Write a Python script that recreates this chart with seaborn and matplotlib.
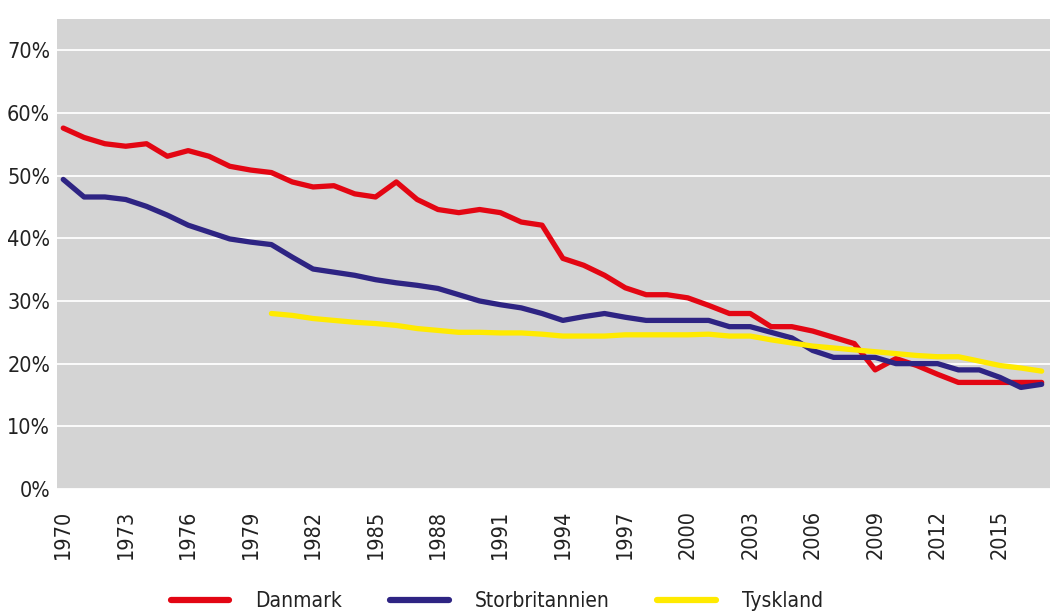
import pandas as pd
import numpy as np
import seaborn as sns
import matplotlib.pyplot as plt
from matplotlib.ticker import PercentFormatter

# Data (share in %)
years = list(range(1970, 2018))
danmark = [57.6, 56.1, 55.1, 54.7, 55.1, 53.1, 54.0, 53.1, 51.5, 50.9,
           50.5, 49.0, 48.2, 48.4, 47.1, 46.6, 49.0, 46.2, 44.6, 44.1,
           44.6, 44.1, 42.6, 42.1, 36.8, 35.7, 34.1, 32.1, 31.0, 31.0,
           30.5, 29.3, 28.0, 28.0, 25.9, 25.9, 25.2, 24.2, 23.2, 19.0,
           20.8, 19.7, 18.3, 17.0, 17.0, 17.0, 17.0, 17.0]
storbritannien = [49.4, 46.6, 46.6, 46.2, 45.1, 43.7, 42.1, 41.0, 39.9, 39.4,
                  39.0, 37.0, 35.1, 34.6, 34.1, 33.4, 32.9, 32.5, 32.0, 31.0,
                  30.0, 29.4, 28.9, 28.0, 26.9, 27.5, 28.0, 27.4, 26.9, 26.9,
                  26.9, 26.9, 25.9, 25.9, 25.0, 24.1, 22.1, 21.0, 21.0, 21.0,
                  20.0, 20.0, 20.0, 19.0, 19.0, 17.8, 16.2, 16.7]
tyskland_years = list(range(1980, 2018))
tyskland = [28.0, 27.7, 27.2, 26.9, 26.6, 26.4, 26.1, 25.6, 25.3, 25.0,
            25.0, 24.9, 24.9, 24.7, 24.4, 24.4, 24.4, 24.6, 24.6, 24.6,
            24.6, 24.7, 24.4, 24.4, 23.8, 23.3, 22.8, 22.5, 22.2, 21.9,
            21.6, 21.3, 21.1, 21.1, 20.4, 19.7, 19.3, 18.8]
xticks = list(range(1970, 2016, 3))

df = pd.concat([
    pd.DataFrame({'year': years, 'value': danmark, 'land': 'Danmark'}),
    pd.DataFrame({'year': years, 'value': storbritannien, 'land': 'Storbritannien'}),
    pd.DataFrame({'year': tyskland_years, 'value': tyskland, 'land': 'Tyskland'}),
])

sns.set_theme(style='darkgrid', rc={
    'axes.facecolor': '#d4d4d4',
    'grid.color': 'white',
    'grid.linewidth': 1.3,
})
plt.rcParams['font.family'] = ['DejaVu Sans']
plt.rcParams['font.stretch'] = 'condensed'

palette = {'Danmark': '#e30613', 'Storbritannien': '#2e2483', 'Tyskland': '#ffea00'}

fig = plt.figure(figsize=(10.5, 6.15), dpi=100)
ax = fig.add_axes([0.0543, 0.205, 0.9457, 0.764])
sns.lineplot(data=df, x='year', y='value', hue='land', palette=palette,
             linewidth=3.8, ax=ax, legend=False)

ax.set_xlim(1969.7, 2017.4)
ax.set_ylim(0, 75)
ax.set_yticks(range(0, 80, 10))
ax.yaxis.set_major_formatter(PercentFormatter(decimals=0))
ax.set_xticks(xticks)
ax.set_xticklabels([str(y) for y in xticks], rotation=90)
ax.grid(axis='x', visible=False)
ax.tick_params(axis='both', labelsize=15.5, colors='#222222', length=0)
ax.tick_params(axis='y', pad=5)
ax.tick_params(axis='x', pad=15)
ax.set_xlabel('')
ax.set_ylabel('')
for s in ax.spines.values():
    s.set_visible(False)

handles = [plt.Line2D([], [], color=palette[k], linewidth=4.5, solid_capstyle='round')
           for k in palette]
fig.legend(handles, list(palette), loc='center', bbox_to_anchor=(497 / 1050, 1 - 601 / 615),
           ncol=3, frameon=False, fontsize=15, handlelength=2.8, handletextpad=1.25,
           columnspacing=2.3, labelcolor='#222222')

plt.savefig('out.png', dpi=100)
